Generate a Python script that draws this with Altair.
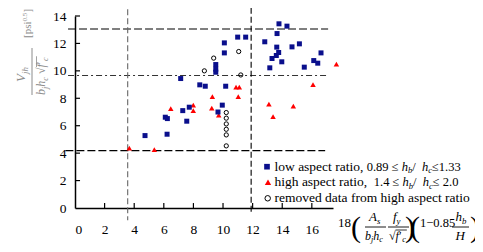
import altair as alt
import pandas as pd

# ---------------- data ----------------
low_x = [4.73, 6.10, 6.22, 6.24, 7.14, 7.28, 7.72, 7.55, 8.43, 8.80, 9.51, 9.51, 9.51,
         9.66, 9.95, 10.09, 10.09, 10.18, 10.99, 11.53, 12.82, 13.16, 13.31, 13.60,
         13.63, 13.65, 13.76, 13.78, 13.97, 14.32, 14.66, 15.16, 15.49, 16.13, 16.40, 16.62]
low_y = [5.28, 6.62, 5.38, 6.52, 9.44, 7.10, 7.35, 6.33, 8.98, 8.88, 10.46, 10.12, 9.90,
         7.00, 7.50, 12.04, 11.31, 8.88, 12.46, 12.46, 12.12, 10.22, 10.90, 11.12,
         11.73, 12.72, 11.34, 13.43, 10.66, 13.26, 11.75, 11.97, 10.27, 10.75, 10.56, 11.31]

high_x = [3.67, 5.36, 6.47, 7.99, 7.99, 9.28, 9.24, 9.71, 10.88, 11.10, 11.03,
          13.10, 13.38, 14.75, 16.08, 17.66]
high_y = [4.36, 4.26, 7.25, 7.50, 7.10, 8.12, 7.28, 6.77, 8.81, 8.81, 8.12,
          7.57, 6.66, 7.42, 9.00, 10.49]

rem_x = [8.74, 9.37, 11.06, 11.20, 10.22, 10.22, 10.22, 10.22, 10.22, 10.22]
rem_y = [10.00, 10.93, 11.41, 9.70, 6.96, 6.55, 6.13, 5.74, 5.33, 4.53]

x_ticks = [0, 2, 4, 6, 8, 10, 12, 14, 16]
y_ticks = [0, 2, 4, 6, 8, 10, 12, 14]

h_limits = [13.05, 9.66, 4.18]   # dashed / dash-dot / dashed
v_limits = [3.56, 11.9]

legend_labels = ["low aspect ratio, ", "high aspect ratio,  ", "removed data from high aspect ratio"]

# ---------------- layout ----------------
FONT = "'Liberation Serif', 'Times New Roman', Times, serif"
W, H = 258, 192
XMAX = 17.43
OX, OY = 75, 16          # page position of the plot origin

xs = alt.Scale(domain=[0, XMAX], nice=False, zero=False)
ys = alt.Scale(domain=[0, 14], nice=False)

ax_x = alt.Axis(values=x_ticks, title=None, grid=False, ticks=False, labelPadding=14,
                labelFont=FONT, labelFontSize=13.5, labelColor="black", labelAngle=0,
                domainColor="black", domainWidth=1.5, format="d")
ax_y = alt.Axis(values=y_ticks, title=None, grid=False, ticks=False, labelPadding=9,
                labelFont=FONT, labelFontSize=13.5, labelColor="black",
                domainColor="black", domainWidth=1.5, format="d")

X = lambda f="x": alt.X(f"{f}:Q", scale=xs, axis=ax_x)
Y = lambda f="y": alt.Y(f"{f}:Q", scale=ys, axis=ax_y)

BLUE = "#0a0f8c"
RED = "#ff0000"
GREY = "#8c8c8c"

layers = []

# reference lines
def hline(yv, x1, x2, dash, color="black"):
    d = pd.DataFrame({"x": [x1], "x2": [x2], "y": [yv]})
    return alt.Chart(d).mark_rule(color=color, strokeWidth=1.1, strokeDash=dash).encode(
        x=X(), x2="x2:Q", y=Y())

def vline(xv, y1, y2, dash, color="black"):
    d = pd.DataFrame({"x": [xv], "y": [y1], "y2": [y2]})
    return alt.Chart(d).mark_rule(color=color, strokeWidth=1.1, strokeDash=dash).encode(
        x=X(), y=Y(), y2="y2:Q")

layers.append(hline(h_limits[0], -0.47, 17.1, [8, 3]))
layers.append(hline(h_limits[1], -0.47, 17.1, [6, 3, 2, 3], "#333333"))
layers.append(hline(h_limits[2], -0.65, 16.9, [8, 3]))
layers.append(vline(v_limits[0], 14.5, -0.9, [6, 3], "#666666"))
layers.append(vline(v_limits[1], 14.6, -0.3, [6, 3]))

# inward tick marks
xt = pd.DataFrame({"x": x_ticks[1:], "y": [0] * (len(x_ticks) - 1), "y2": [0.36] * (len(x_ticks) - 1)})
yt = pd.DataFrame({"y": y_ticks[1:], "x": [0] * (len(y_ticks) - 1), "x2": [0.34] * (len(y_ticks) - 1)})
layers.append(alt.Chart(xt).mark_rule(color="black", strokeWidth=1.2).encode(x=X(), y=Y(), y2="y2:Q"))
layers.append(alt.Chart(yt).mark_rule(color="black", strokeWidth=1.2).encode(y=Y(), x=X(), x2="x2:Q"))

# data points
layers.append(alt.Chart(pd.DataFrame({"x": rem_x, "y": rem_y})).mark_point(
    shape="circle", filled=False, size=18, color="black", strokeWidth=1, opacity=1).encode(x=X(), y=Y()))
layers.append(alt.Chart(pd.DataFrame({"x": high_x, "y": high_y})).mark_point(
    shape="triangle-up", filled=True, size=30, color=RED, opacity=1).encode(x=X(), y=Y()))
layers.append(alt.Chart(pd.DataFrame({"x": low_x, "y": low_y})).mark_point(
    shape="square", filled=True, size=25, color=BLUE, opacity=1).encode(x=X(), y=Y()))

# ---------------- text helpers ----------------
REG = {" ": 250, ",": 250, ".": 250, "/": 278, "≤": 549, "a": 444, "b": 500, "c": 444, "d": 500,
       "e": 444, "f": 333, "g": 500, "h": 500, "i": 278, "j": 278, "l": 278, "m": 778, "n": 500,
       "o": 500, "p": 500, "r": 333, "s": 389, "t": 278, "v": 500, "w": 722, "[": 333, "]": 333,
       "(": 333, ")": 333, "−": 564, "√": 549, "′": 275}
ITA = {"h": 500, "b": 500, "c": 444, "j": 278, "s": 389, "y": 444, "f": 278, "A": 611, "H": 722, "V": 611}

def width(s, italic, fs):
    tab = ITA if italic else REG
    return sum(tab.get(ch, 500) for ch in s) * fs / 1000.0

one = pd.DataFrame({"a": [0]})

def txt(s, px, py, fs, italic=False, angle=0, color="black", align="left"):
    kw = dict(text=s, font=FONT, fontSize=fs, fontStyle="italic" if italic else "normal",
              align=align, baseline="alphabetic", color=color)
    if angle:
        kw["angle"] = angle
    return alt.Chart(one).mark_text(**kw).encode(x=alt.value(px - OX), y=alt.value(py - OY))

def rule_px(x1, y1, x2, y2, color="black", w=1.0):
    return alt.Chart(one).mark_rule(color=color, strokeWidth=w).encode(
        x=alt.value(x1 - OX), x2=alt.value(x2 - OX), y=alt.value(y1 - OY), y2=alt.value(y2 - OY))

def run(parts, x0, base, fs, color="black"):
    """parts: (text, style[, size])"""
    out = []
    x = x0
    for p in parts:
        s, st = p[0], p[1]
        size = p[2] if len(p) > 2 else fs
        if st in ("sub", "isub"):
            f, dy = size * 0.68, size * 0.22
        elif st == "sup":
            f, dy = size * 0.65, -size * 0.4
        else:
            f, dy = size, 0
        it = st in ("i", "isub")
        out.append(txt(s, x, base + dy, f, it, color=color))
        x += width(s, it, f)
    return out, x

def run_rot(parts, base_x, y0, fs, color=GREY):
    out = []
    y = y0
    for s, st in parts:
        if st in ("sub", "isub"):
            f, dx = fs * 0.68, fs * 0.22
        elif st == "sup":
            f, dx = fs * 0.65, -fs * 0.4
        else:
            f, dx = fs, 0
        it = st in ("i", "isub")
        out.append(txt(s, base_x + dx, y, f, it, angle=270, color=color))
        y -= width(s, it, f)
    return out, y

# ---------------- legend ----------------
LFS = 13.5
MFS = 12.5
LX = 274.5
leg_sym = [
    alt.Chart(one).mark_point(shape="square", filled=True, size=32, color=BLUE, opacity=1).encode(
        x=alt.value(267 - OX), y=alt.value(166.7 - OY)),
    alt.Chart(one).mark_point(shape="triangle-up", filled=True, size=40, color=RED, opacity=1).encode(
        x=alt.value(268 - OX), y=alt.value(182.3 - OY)),
    alt.Chart(one).mark_point(shape="circle", filled=False, size=30, color="black", strokeWidth=1, opacity=1).encode(
        x=alt.value(267.7 - OX), y=alt.value(198.3 - OY)),
]
layers += leg_sym
l1, _ = run([(legend_labels[0], "r"), ("0.89 ≤ ", "r", MFS), ("h", "i", MFS), ("b", "isub", MFS),
             (" / ", "r", MFS), ("h", "i", MFS), ("c", "isub", MFS), (" ≤1.33", "r", MFS)],
            LX, 170.5, LFS)
l2, _ = run([(legend_labels[1], "r"), ("1.4 ≤ ", "r", MFS), ("h", "i", MFS), ("b", "isub", MFS),
             (" / ", "r", MFS), ("h", "i", MFS), ("c", "isub", MFS), (" ≤ 2.0", "r", MFS)],
            LX, 186, LFS)
l3, _ = run([(legend_labels[2], "r")], LX, 201.5, LFS)
layers += l1 + l2 + l3

# ---------------- y-axis title (rotated fraction) ----------------
num, _ = run_rot([("V", "i"), ("jh", "isub")], 25, 82, 13)
den, yd = run_rot([("b", "i"), ("j", "isub"), ("h", "i"), ("c", "isub"), (" ", "r"), ("√", "r"),
                   ("f", "i"), ("′", "r"), ("c", "isub")], 45, 95, 12)
unit, _ = run_rot([("[psi", "r"), ("0.5", "sup"), ("]", "r")], 31, 38, 11)
layers += num + den + unit
layers.append(rule_px(32, 48, 32, 95, GREY, 1))
layers.append(rule_px(36.5, 67, 36.5, yd - 1, GREY, 0.8))

# ---------------- x-axis title (formula) ----------------
XFS = 13
PFS = 30
DB = 239.5   # denominator baseline
layers.append(txt("18", 338, 227, XFS))
layers.append(txt("(", 356, 237, PFS, align="center"))
a_s, _ = run([("A", "i"), ("s", "isub")], 369, 221, XFS)
bh, _ = run([("b", "i"), ("j", "isub"), ("h", "i"), ("c", "isub")], 365, DB, 12)
fy, _ = run([("f", "i"), ("y", "isub")], 393, 221, XFS)
rf, xr = run([("√", "r"), ("f", "i"), ("′", "r"), ("c", "isub")], 389, DB, 12)
layers += a_s + bh + fy + rf
layers.append(rule_px(365, 227, 386, 227, "black", 0.9))
layers.append(rule_px(388, 227, 409, 227, "black", 0.9))
layers.append(rule_px(395.5, DB - 9.5, xr + 1, DB - 9.5, "black", 0.8))
layers.append(txt(")", 410, 237, PFS, align="center"))
layers.append(txt("(", 415, 237, PFS, align="center"))
layers.append(txt("1−0.85", 420, 227, 12.5))
hb, _ = run([("h", "i"), ("b", "isub")], 455.5, 221, XFS)
layers += hb
layers.append(txt("H", 455.5, DB, XFS, italic=True))
layers.append(rule_px(452, 227, 469, 227, "black", 0.9))
layers.append(txt(")", 475, 237, PFS, align="center"))

chart = alt.layer(*layers).properties(
    width=W, height=H,
    autosize=alt.AutoSizeParams(type="none"),
    padding={"left": 67, "top": 8, "right": 142, "bottom": 36},
    background="white",
).configure_view(stroke=None)

chart.save("out.html", embed_options={"renderer": "svg", "actions": False})
